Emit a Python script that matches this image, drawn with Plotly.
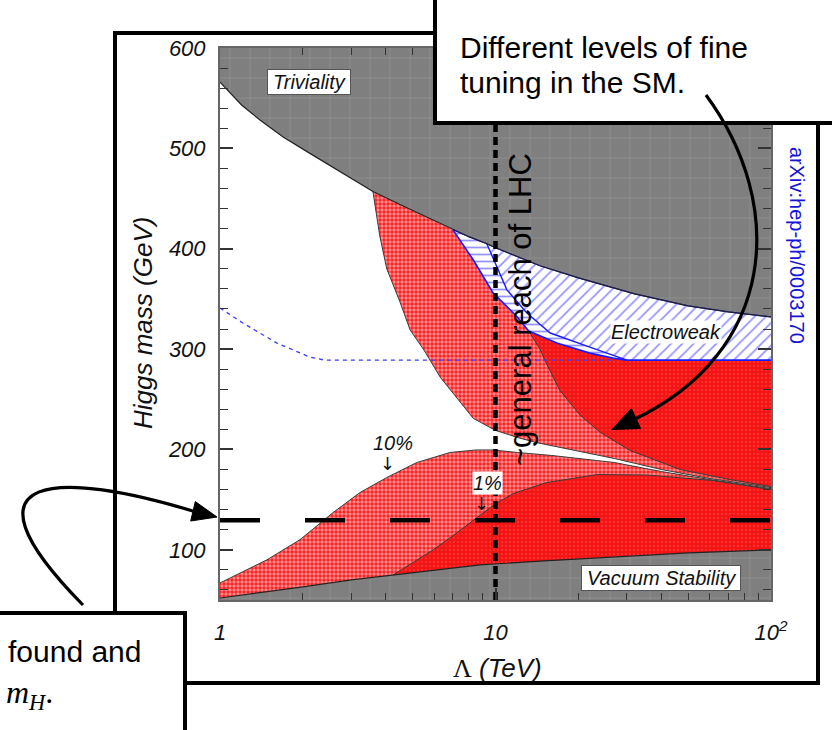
import plotly.graph_objects as go

# ---------------- data ----------------
# Triviality (upper) bound
LAM_TRIV = [1, 1.2, 1.4, 1.7, 2.12, 2.8, 3.59, 4.5, 5.5, 7.0, 8.0, 9.3, 10, 14.5, 20, 32, 50, 70, 100]
M_TRIV = [566, 543, 528, 511, 495, 475, 457, 444, 433, 419, 412, 405, 401, 383, 371, 355, 343, 337, 332]
# Vacuum stability (lower) bound
LAM_VAC = [1, 1.5, 2, 3, 4.25, 6, 8.8, 15, 26.7, 50, 100]
M_VAC = [52, 58, 63, 70, 75, 80, 85, 89, 93, 97, 100]
# 10% fine tuning: upper-left boundary
LAM_L10U = [3.59, 3.8, 4.03, 4.5, 4.9, 5.5, 6.3, 7.2, 8.3, 10, 12, 14, 20, 27, 40, 60, 100]
M_L10U = [457, 413, 380, 347, 319, 299, 272, 252, 231, 219, 212, 207, 198, 191, 180, 171, 162]
# 10% fine tuning: lower region top boundary
LAM_L10L = [1, 1.48, 1.95, 2.57, 3.22, 4.03, 5.18, 6.84, 8.5, 9.8, 12, 16, 27, 40, 60, 100]
M_L10L = [67, 90, 110, 137, 157, 172, 187, 197, 199.5, 199.5, 197, 194, 187, 178, 170, 161]
# 1% fine tuning: lower region top boundary
LAM_L1L = [4.25, 5.0, 5.94, 7.0, 8.6, 10, 11.6, 15.3, 23.4, 35.6, 61.7, 100]
M_L1L = [75, 87, 100, 114, 133, 146, 156, 167, 175, 174.5, 169, 160]
# 1% fine tuning: upper region left boundary
LAM_L1U = [13.2, 14.5, 15.1, 17.1, 20.3, 24, 30.8, 46.8, 71, 100]
M_L1U = [318, 300, 289, 259, 234, 217, 199, 180, 170, 163]
# Electroweak precision bound (lower edge of the blue region)
LAM_EW = [7.0, 8.3, 9.8, 12, 13.2, 16.7, 22, 26.7, 30, 100]
M_EW = [419, 389, 356, 332, 318, 306, 296, 291, 289, 289]
# divider between horizontal and diagonal hatching
LAM_DIV = [9.3, 11, 13, 15.8, 22, 26.7, 30]
M_DIV = [405, 359, 336, 316, 302, 294, 289]
# thin blue dashed line
LAM_BDASH = [1, 1.21, 1.61, 2.12, 2.4, 26.7]
M_BDASH = [341, 326, 306, 292, 289, 289]
# reference lines
M_HIGGS = 129.5
LAM_LHC = 10

X_TICKS = [1, 10, 100]
X_TICKTEXT = ["1", "10", "10<sup>2</sup>"]
X_MINOR = [2, 3, 4, 5, 6, 7, 8, 9, 20, 30, 40, 50, 60, 70, 80, 90]
Y_TICKS = [100, 200, 300, 400, 500, 600]
Y_RANGE = [50, 600]

# ---------------- geometry helpers ----------------
W, H = 832, 730
ML, MR, MT, MB = 220, 61, 48, 130
PW = W - ML - MR
PH = H - MT - MB


def fx(px):
    return (px - ML) / PW


def fy(py):
    return (H - MB - py) / PH


def seg(lams, ms, lo, hi):
    pts = [(l, m) for l, m in zip(lams, ms) if lo <= l <= hi]
    return [p[0] for p in pts], [p[1] for p in pts]


FONT = "Liberation Sans, Arial, Helvetica, sans-serif"
SERIF = "Liberation Serif, Times New Roman, serif"

fig = go.Figure()


def poly(xs, ys, pattern, name):
    fig.add_trace(go.Scatter(x=xs, y=ys, fill="toself", mode="lines",
                             line=dict(width=0), fillpattern=pattern,
                             hoverinfo="skip", showlegend=False, name=name))


def curve(xs, ys, color, width, dash=None):
    fig.add_trace(go.Scatter(x=xs, y=ys, mode="lines",
                             line=dict(color=color, width=width, dash=dash),
                             hoverinfo="skip", showlegend=False))


GRAY = dict(shape="+", bgcolor="#7f7f7f", fgcolor="#a0a0a0", size=20, solidity=0.08)
LIGHT_RED = dict(shape=".", bgcolor="#ff1a1a", fgcolor="#ffffff", size=4, solidity=0.55)
DARK_RED = dict(shape=".", bgcolor="#f51414", fgcolor="#ff6a6a", size=4, solidity=0.18)
DIAG = dict(shape="/", bgcolor="#ffffff", fgcolor="#2a2aff", size=8, solidity=0.22)
HORIZ = dict(shape="-", bgcolor="#ffffff", fgcolor="#2a2aff", size=7, solidity=0.25)

# gray excluded regions
poly(LAM_TRIV + [100, 1], M_TRIV + [600, 600], GRAY, "triviality")
poly(LAM_VAC + [100, 1], M_VAC + [50, 50], GRAY, "vacuum")

# upper light-red region
tx, ty = seg(LAM_TRIV, M_TRIV, 3.59, 7.0)
poly(LAM_L10U + LAM_EW[::-1] + tx[::-1], M_L10U + M_EW[::-1] + ty[::-1], LIGHT_RED, "10u")
# upper dark-red region
ex, ey = seg(LAM_EW, M_EW, 13.2, 100)
poly(LAM_L1U + ex[::-1], M_L1U + ey[::-1], DARK_RED, "1u")
# lower light-red region
poly(LAM_L10L + LAM_VAC[::-1], M_L10L + M_VAC[::-1], LIGHT_RED, "10l")
# lower dark-red region
vx, vy = seg(LAM_VAC, M_VAC, 4.25, 100)
poly(LAM_L1L + vx[::-1], M_L1L + vy[::-1], DARK_RED, "1l")

# blue electroweak regions
tx2, ty2 = seg(LAM_TRIV, M_TRIV, 7.0, 100)
poly(tx2 + LAM_EW[::-1], ty2 + M_EW[::-1], DIAG, "ew")
tx3, ty3 = seg(LAM_TRIV, M_TRIV, 7.0, 9.3)
ex3, ey3 = seg(LAM_EW, M_EW, 7.0, 30)
poly(tx3 + LAM_DIV + ex3[::-1], ty3 + M_DIV + ey3[::-1], HORIZ, "ewh")

# boundary lines
curve(LAM_L10U, M_L10U, "#3a3a3a", 1)
curve(LAM_L10L, M_L10L, "#3a3a3a", 1)
curve(LAM_L1L, M_L1L, "#3a3a3a", 1)
curve(LAM_L1U, M_L1U, "#3a3a3a", 1)
curve(LAM_EW, M_EW, "#1a1aff", 1.6)
curve(LAM_DIV, M_DIV, "#1a1aff", 1.4)
curve(tx2, ty2, "#1a1aff", 1.2)
curve(LAM_TRIV, M_TRIV, "#222222", 1.2)
curve(LAM_VAC, M_VAC, "#222222", 1.2)
curve(LAM_BDASH, M_BDASH, "#3b3bff", 1.3, "4px,4px")

# reference lines
curve([1, 100], [M_HIGGS, M_HIGGS], "#000000", 4.5, "40px,45px")
curve([LAM_LHC, LAM_LHC], Y_RANGE, "#000000", 4.5, "8px,5px")

# ---------------- layout ----------------
fig.update_layout(
    width=W, height=H,
    margin=dict(l=ML, r=MR, t=MT, b=MB, pad=0),
    paper_bgcolor="white", plot_bgcolor="white",
    showlegend=False,
    font=dict(family=FONT, color="#111"),
    xaxis=dict(type="log", range=[0, 2], showgrid=False, zeroline=False,
               tickvals=X_TICKS, ticktext=X_TICKTEXT,
               ticks="inside", ticklen=12, tickwidth=1.5, tickcolor="#333",
               showline=True, linecolor="#666", linewidth=2, mirror="ticks",
               ticklabelstandoff=12,
               tickfont=dict(family=FONT, size=22, style="italic", color="#111"),
               minor=dict(tickvals=X_MINOR, ticks="inside", ticklen=7,
                          tickwidth=1.3, tickcolor="#333")),
    yaxis=dict(range=Y_RANGE, showgrid=False, zeroline=False,
               tickvals=Y_TICKS,
               ticks="inside", ticklen=13, tickwidth=1.5, tickcolor="#333",
               showline=True, linecolor="#666", linewidth=2, mirror="ticks",
               ticklabelstandoff=8,
               tickfont=dict(family=FONT, size=22, style="italic", color="#111"),
               minor=dict(dtick=20, ticks="inside", ticklen=8,
                          tickwidth=1.3, tickcolor="#333")),
)

shapes = []
# outer frame
shapes.append(dict(type="rect", xref="paper", yref="paper",
                   x0=fx(115), x1=fx(818), y0=fy(683), y1=fy(33),
                   line=dict(color="black", width=4), layer="above"))
# top-right text box
shapes.append(dict(type="rect", xref="paper", yref="paper",
                   x0=fx(435), x1=fx(850), y0=fy(123), y1=fy(-10),
                   line=dict(color="black", width=4), fillcolor="white", layer="above"))
# bottom-left text box
shapes.append(dict(type="rect", xref="paper", yref="paper",
                   x0=fx(-10), x1=fx(185), y0=fy(745), y1=fy(613),
                   line=dict(color="black", width=4), fillcolor="white", layer="above"))


def bez(p0, p1, p2, p3):
    return ("M{},{} C{},{} {},{} {},{}".format(
        fx(p0[0]), fy(p0[1]), fx(p1[0]), fy(p1[1]),
        fx(p2[0]), fy(p2[1]), fx(p3[0]), fy(p3[1])))


def head(tip, base, half=10):
    dx, dy = tip[0] - base[0], tip[1] - base[1]
    ln = (dx * dx + dy * dy) ** 0.5
    nx, ny = -dy / ln * half, dx / ln * half
    a = (base[0] + nx, base[1] + ny)
    b = (base[0] - nx, base[1] - ny)
    return "M{},{} L{},{} L{},{} Z".format(fx(tip[0]), fy(tip[1]),
                                           fx(a[0]), fy(a[1]), fx(b[0]), fy(b[1]))


shapes.append(dict(type="path", xref="paper", yref="paper",
                   path=bez((706, 95), (787, 205), (777, 352), (633, 420)),
                   line=dict(color="black", width=3.2), layer="above"))
shapes.append(dict(type="path", xref="paper", yref="paper",
                   path=head((612, 429.5), (636, 418.5), 11),
                   line=dict(color="black", width=1), fillcolor="black", layer="above"))
shapes.append(dict(type="path", xref="paper", yref="paper",
                   path=bez((83, 605), (-50, 470), (60, 470), (196, 512)),
                   line=dict(color="black", width=3.2), layer="above"))
shapes.append(dict(type="path", xref="paper", yref="paper",
                   path=head((217, 517), (193, 511.3), 10),
                   line=dict(color="black", width=1), fillcolor="black", layer="above"))
fig.update_layout(shapes=shapes)

ann = []


def text(px, py, s, size=20, italic=False, color="#111", family=FONT, angle=0,
         xanchor="center", yanchor="middle", bg=None, border=None, pad=1):
    d = dict(xref="paper", yref="paper", x=fx(px), y=fy(py), text=s,
             showarrow=False, xanchor=xanchor, yanchor=yanchor, textangle=angle,
             font=dict(family=family, size=size, color=color,
                       style="italic" if italic else "normal"))
    if bg:
        d["bgcolor"] = bg
    if border:
        d["bordercolor"] = border
        d["borderwidth"] = 1
    d["borderpad"] = pad
    ann.append(d)


# box texts
text(458, 47, "Different levels of fine", size=30, color="black", xanchor="left")
text(458, 83, "tuning in the SM.", size=30, color="black", xanchor="left")
text(6, 651, "found and", size=30, color="black", xanchor="left")
text(55, 694, "<i>m</i><sub><i>H</i></sub>.", size=32, color="black",
     family=SERIF, xanchor="right")

# in-plot labels
text(520, 310, "~general reach of LHC", size=31, color="black", angle=-90)
text(797, 245, "arXiv:hep-ph/0003170", size=20, color="#1515d5", angle=90)
text(309, 82, "\u2009Triviality\u2009", size=20, italic=True, bg="white", border="#555", pad=1)
text(666, 332, "Electroweak", size=20, italic=True, bg="white", pad=0)
text(661, 578, "\u2009Vacuum Stability\u2009", size=20, italic=True, bg="white",
     border="#555", pad=1)
text(393, 443, "10%", size=20, italic=True)
text(387, 463, "↓", size=18, family="DejaVu Sans")
text(487, 483, "1%", size=20, italic=True, bg="white", pad=0)
text(481, 503, "↓", size=18, family="DejaVu Sans")

# axis titles
text(143, 323, "Higgs mass (GeV)", size=26, italic=True, angle=-90)
text(497, 668, "<span style=\"font-family:'Liberation Serif';font-style:normal\">Λ</span> (TeV)",
     size=26, italic=True)

fig.update_layout(annotations=ann)

fig.write_html("out.html")
